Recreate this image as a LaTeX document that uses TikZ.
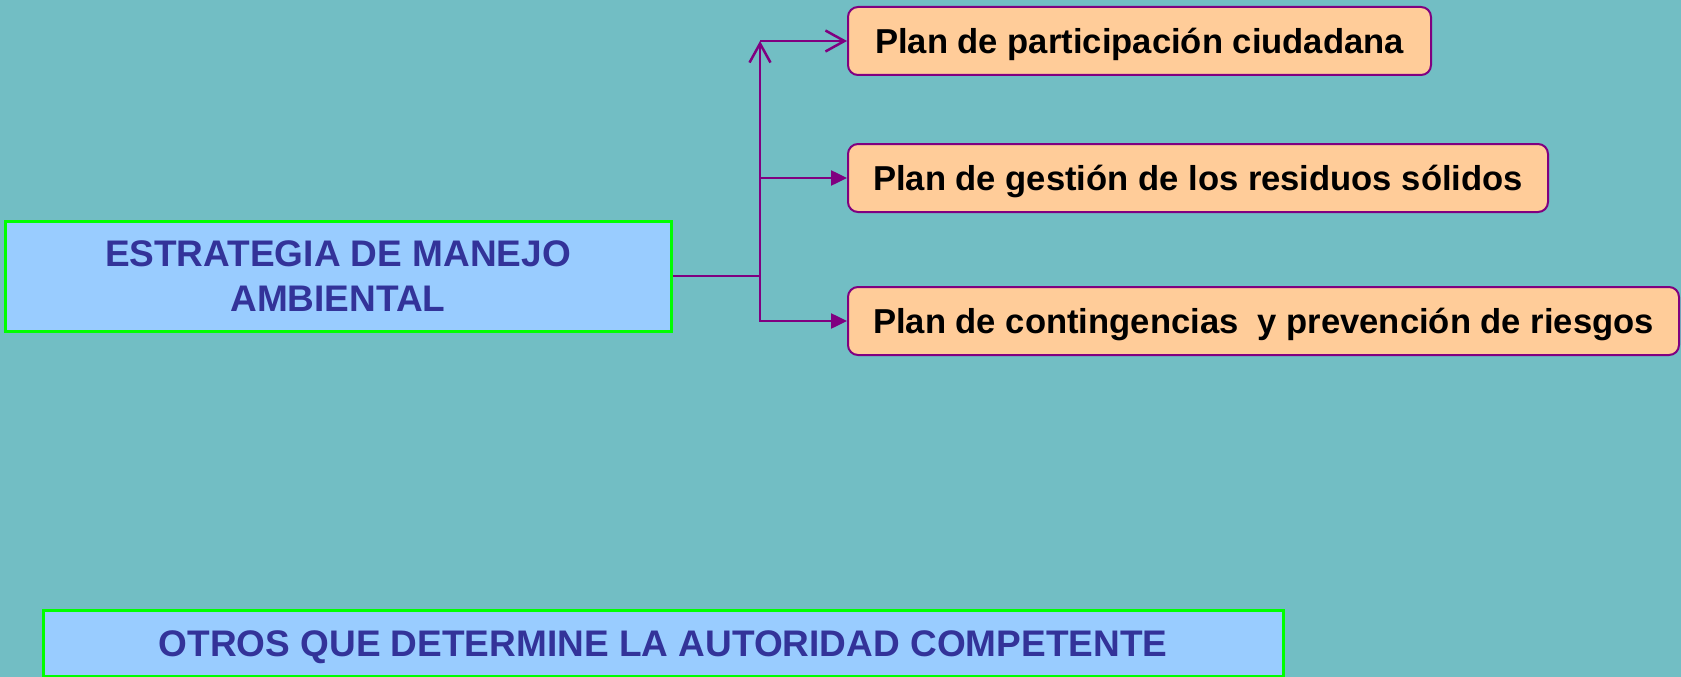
\documentclass[tikz,border=0pt]{standalone}
\usepackage{fontspec}
\setmainfont{Liberation Sans}
\usetikzlibrary{arrows.meta, positioning}
\definecolor{fondo}{RGB}{114, 190, 196}
\definecolor{azulcaja}{RGB}{153, 204, 255}
\definecolor{verdeborde}{RGB}{0, 255, 0}
\definecolor{textoazul}{RGB}{51, 51, 153}
\definecolor{naranja}{RGB}{255, 204, 153}
\definecolor{morado}{RGB}{128, 0, 128}

\begin{document}
\begin{tikzpicture}[x=1pt, y=-1pt,
    estrategia/.style={rectangle, draw=verdeborde, line width=3pt, fill=azulcaja,
                       text=textoazul, inner sep=0pt, align=center,
                       font=\fontsize{37}{45}\selectfont\bfseries},
    plan/.style={rectangle, rounded corners=10pt, draw=morado, line width=2pt, fill=naranja,
                 inner sep=0pt, minimum height=68pt, text height=25pt, text depth=0pt,
                 font=\fontsize{34.6}{42}\selectfont\bfseries},
    enlace/.style={draw=morado, line width=2.5pt}]

    % Fondo
    \fill[fondo] (0,0) rectangle (1681,677);
    \useasboundingbox (0,0) rectangle (1681,677);

    % Estrategias
    \node[estrategia, minimum width=666pt, minimum height=110pt] (estr) at (338,276) {ESTRATEGIA DE MANEJO\\AMBIENTAL};
    \node[estrategia, minimum width=1240pt, minimum height=66pt, text height=26.5pt, text depth=0pt] (otros) at (663,643) {OTROS QUE DETERMINE LA AUTORIDAD COMPETENTE};

    % Planes
    \node[plan, minimum width=583pt] (p1) at (1139.5,41) {Plan de participación ciudadana};
    \node[plan, minimum width=700pt] (p2) at (1198,178) {Plan de gestión de los residuos sólidos};
    \node[plan, minimum width=831pt] (p3) at (1263.5,321) {Plan de contingencias\ \ y prevención de riesgos};

    % Conectores
    \coordinate (split) at (760,276);
    \coordinate (arriba) at (760,41);
    \draw[enlace] (estr.east) -- (split);
    \draw[enlace, -{Straight Barb[length=19pt, width=21pt]}] (split) -- (arriba);
    \draw[enlace, -{Straight Barb[length=19pt, width=21pt]}] (arriba) -- (p1.west);
    \draw[enlace, -{Triangle[length=16pt, width=15pt]}] (split |- p2.west) -- (p2.west);
    \draw[enlace, -{Triangle[length=16pt, width=15pt]}] (split) |- (p3.west);
\end{tikzpicture}
\end{document}
